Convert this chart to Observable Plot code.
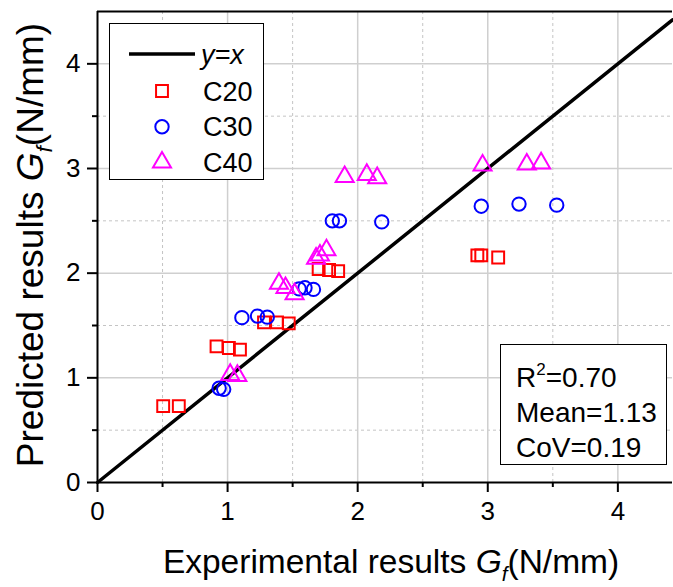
<!DOCTYPE html>
<html><head><meta charset="utf-8">
<script src="https://cdn.jsdelivr.net/npm/d3@7"></script>
<script src="https://cdn.jsdelivr.net/npm/@observablehq/plot@0.6"></script>
<style>
body{margin:0;background:#fff;}
#chart svg{font-family:"Liberation Sans",Arial,sans-serif;}
</style>
</head><body><div id="chart"></div>
<script>
// ---- data ----
const seriesNames = ["C20", "C30", "C40"];
const seriesColors = ["#ff0000", "#0000ff", "#ff00ff"];
const seriesSymbols = ["square", "circle", "triangle"];

const c20X = [0.505, 0.625, 0.915, 1.01, 1.095, 1.28, 1.38, 1.47, 1.70, 1.78, 1.85, 2.92, 2.95, 3.08];
const c20Y = [0.73, 0.73, 1.30, 1.285, 1.27, 1.53, 1.53, 1.52, 2.04, 2.03, 2.02, 2.17, 2.17, 2.15];

const c30X = [0.935, 0.97, 1.11, 1.23, 1.305, 1.55, 1.595, 1.66, 1.805, 1.86, 2.185, 2.95, 3.24, 3.53];
const c30Y = [0.90, 0.89, 1.575, 1.59, 1.58, 1.85, 1.86, 1.845, 2.50, 2.50, 2.49, 2.64, 2.66, 2.65];

const c40X = [1.02, 1.075, 1.395, 1.445, 1.515, 1.68, 1.71, 1.76, 1.90, 2.07, 2.15, 2.96, 3.30, 3.41];
const c40Y = [1.03, 1.02, 1.90, 1.86, 1.80, 2.14, 2.17, 2.22, 2.92, 2.94, 2.91, 3.03, 3.04, 3.05];

const majorTicks = [0, 1, 2, 3, 4];
const minorTicks = [0.5, 1.5, 2.5, 3.5];
const xMax = 4.42;
const yMax = 4.5;
const identityLine = [0, 4.42];
const statsLines = [["R", "2", "=0.70"], ["Mean=1.13"], ["CoV=0.19"]];
const xLabel = ["Experimental results ", "G", "f", "(N/mm)"];
const yLabel = ["Predicted results ", "G", "f", "(N/mm)"];

// ---- table ----
const allX = [c20X, c30X, c40X], allY = [c20Y, c30Y, c40Y];
const points = [];
seriesNames.forEach((s, i) => allX[i].forEach((x, j) => points.push({series: s, x, y: allY[i][j]})));

const W = 673, H = 587;
const fmt = d => String(d);

const chart = Plot.plot({
  width: W, height: H,
  marginLeft: 97, marginRight: 1, marginTop: 11, marginBottom: 105,
  x: {domain: [0, xMax]},
  y: {domain: [0, yMax]},
  color: {domain: seriesNames, range: seriesColors},
  symbol: {domain: seriesNames, range: seriesSymbols},
  style: {fontFamily: "Liberation Sans, Arial, sans-serif", background: "white", overflow: "visible", color: "black"},
  marks: [
    Plot.gridX(minorTicks, {stroke: "#c4c4c4", strokeOpacity: 1, strokeDasharray: "3,3"}),
    Plot.gridY(minorTicks, {stroke: "#c4c4c4", strokeOpacity: 1, strokeDasharray: "3,3"}),
    Plot.gridX(majorTicks.slice(1), {stroke: "#cfcfcf", strokeOpacity: 1, strokeWidth: 1.5}),
    Plot.gridY(majorTicks.slice(1), {stroke: "#cfcfcf", strokeOpacity: 1, strokeWidth: 1.5}),
    Plot.axisX(majorTicks, {tickSize: 10, tickPadding: 9, fontSize: 26, label: null, strokeWidth: 2, tickFormat: fmt}),
    Plot.axisX(minorTicks, {tickSize: 5, text: null, label: null, strokeWidth: 2}),
    Plot.axisY(majorTicks, {tickSize: 10, tickPadding: 7, fontSize: 26, label: null, strokeWidth: 2, tickFormat: fmt}),
    Plot.axisY(minorTicks, {tickSize: 5, text: null, label: null, strokeWidth: 2}),
    Plot.ruleX([0], {stroke: "black", strokeWidth: 2}),
    Plot.ruleY([0, yMax], {stroke: "black", strokeWidth: 2}),
    Plot.line(identityLine, {x: d => d, y: d => d, stroke: "black", strokeWidth: 3.5}),
    Plot.dot(points, {x: "x", y: "y", symbol: "series", stroke: "series", r: 6.7, strokeWidth: 2, fill: "none"})
  ]
});
document.getElementById("chart").appendChild(chart);

// ---- legend, stats box and axis titles ----
const svg = d3.select(chart);
const sans = "Liberation Sans, Arial, sans-serif";

const lg = svg.append("g").attr("text-anchor", "start");
lg.append("rect").attr("x", 109.5).attr("y", 23.5).attr("width", 154).attr("height", 156)
  .attr("fill", "white").attr("stroke", "black").attr("stroke-width", 1);
lg.append("line").attr("x1", 129).attr("x2", 195).attr("y1", 54).attr("y2", 54)
  .attr("stroke", "black").attr("stroke-width", 3.5);
lg.append("text").attr("x", 201).attr("y", 54).attr("dy", "0.36em").attr("text-anchor", "start")
  .attr("font-size", 27).attr("font-style", "italic").attr("font-family", sans).text("y=x");
const symMap = {square: d3.symbolSquare, circle: d3.symbolCircle, triangle: d3.symbolTriangle};
const area = Math.PI * 6.7 * 6.7;
seriesNames.forEach((s, i) => {
  const cy = 91 + i * 35.7;
  lg.append("path").attr("transform", `translate(162,${cy})`)
    .attr("d", d3.symbol(symMap[seriesSymbols[i]], area)())
    .attr("fill", "none").attr("stroke", seriesColors[i]).attr("stroke-width", 2);
  lg.append("text").attr("x", 203).attr("y", cy).attr("dy", "0.36em").attr("text-anchor", "start")
    .attr("font-size", 27).attr("font-family", sans).text(s);
});

const sg = svg.append("g").attr("text-anchor", "start");
sg.append("rect").attr("x", 500.5).attr("y", 344.5).attr("width", 166).attr("height", 120)
  .attr("fill", "white").attr("stroke", "black").attr("stroke-width", 1);
statsLines.forEach((ln, i) => {
  const t = sg.append("text").attr("x", 516).attr("y", 377 + i * 35).attr("dy", "0.36em")
    .attr("text-anchor", "start").attr("font-size", 28).attr("font-family", sans);
  if (ln.length === 1) t.text(ln[0]);
  else {
    t.append("tspan").text(ln[0]);
    t.append("tspan").attr("font-size", 17).attr("dy", -12).text(ln[1]);
    t.append("tspan").attr("dy", 12).text(ln[2]);
  }
});

function axisTitle(parts, x, y, size, rotate) {
  const t = svg.append("text").attr("font-family", sans).attr("font-size", size)
    .attr("text-anchor", "middle")
    .attr("transform", `translate(${x},${y})${rotate ? " rotate(-90)" : ""}`);
  t.append("tspan").text(parts[0]);
  t.append("tspan").attr("font-style", "italic").text(parts[1]);
  t.append("tspan").attr("font-style", "italic").attr("font-size", size * 0.62).attr("dy", size * 0.25).text(parts[2]);
  t.append("tspan").attr("dy", -size * 0.25).text(parts[3]);
}
axisTitle(xLabel, 391, 573, 33.5, false);
axisTitle(yLabel, 43, 245, 37, true);
</script>
</body></html>
